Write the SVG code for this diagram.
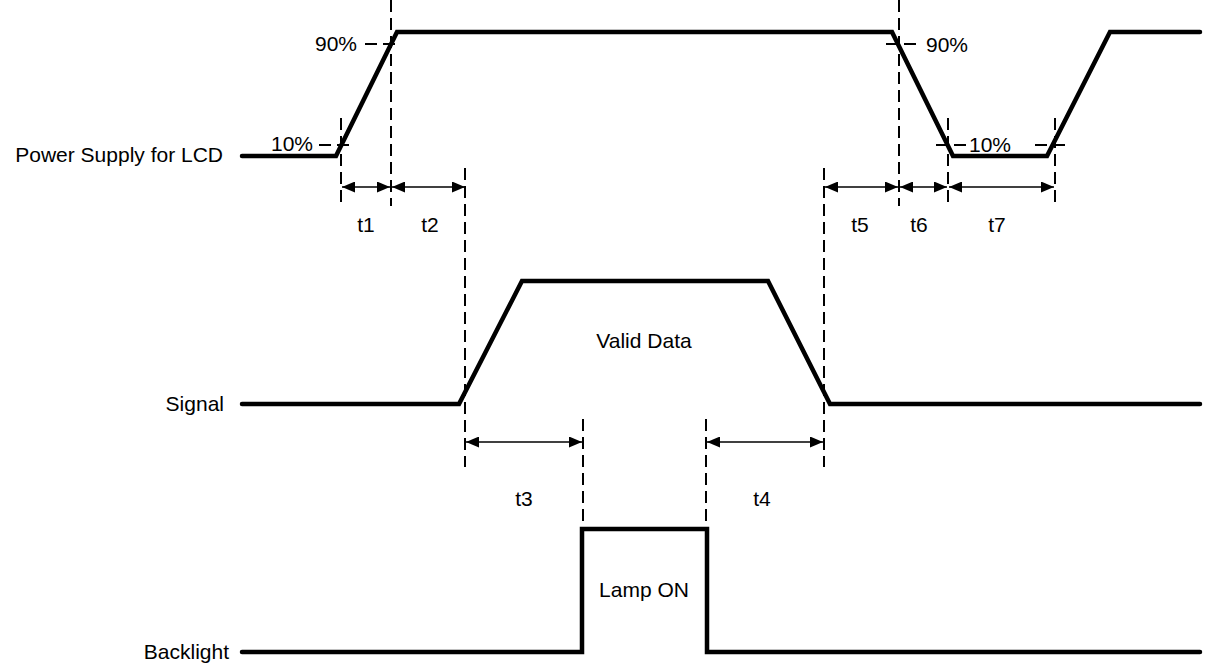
<svg xmlns="http://www.w3.org/2000/svg" width="1207" height="665" viewBox="0 0 1207 665">
<style>
text{font-family:"Liberation Sans",Arial,sans-serif;font-size:21px;fill:#000}
.wave{fill:none;stroke:#000;stroke-width:4.5;stroke-linejoin:miter;stroke-linecap:round}
.dash{fill:none;stroke:#000;stroke-width:2;stroke-dasharray:12 6}
.arr{fill:none;stroke:#000;stroke-width:1.5;marker-start:url(#ah);marker-end:url(#ah)}
.e{text-anchor:end}.m{text-anchor:middle}
</style>
<defs>
<marker id="ah" viewBox="0 0 13 11" refX="13" refY="5.5" markerWidth="13" markerHeight="11" markerUnits="userSpaceOnUse" orient="auto-start-reverse">
<path d="M0,0 L13,5.5 L0,11 Z" fill="#000"/>
</marker>
</defs>
<g id="power">
<text class="e" x="223" y="162">Power Supply for LCD</text>
<path class="wave" d="M242,156 L336,156 L397,32 L892,32 L953,156 L1047,156 L1110,32 L1200,32"/>
<text class="e" x="357" y="51">90%</text>
<text class="e" x="313" y="151">10%</text>
<text x="926" y="52">90%</text>
<text x="969" y="152">10%</text>
</g>
<g id="signal">
<text class="e" x="224" y="411">Signal</text>
<path class="wave" d="M242,404 L459,404 L522,281 L768,281 L830,404 L1200,404"/>
<text class="m" x="644" y="348">Valid Data</text>
</g>
<g id="backlight">
<text class="e" x="229" y="659">Backlight</text>
<path class="wave" d="M242,652 L582,652 L582,529 L707,529 L707,652 L1200,652"/>
<text class="m" x="644" y="597">Lamp ON</text>
</g>
<g id="connectors">
<path class="dash" d="M365,44 L400,44"/>
<path class="dash" d="M319,145 L352,145"/>
<path class="dash" d="M886,44 L918,44"/>
<path class="dash" d="M936,145 L968,145"/>
<path class="dash" d="M1035,145 L1067,145"/>
<path class="dash" d="M391,0 L391,206"/>
<path class="dash" d="M341,118 L341,206"/>
<path class="dash" d="M899,0 L899,206"/>
<path class="dash" d="M948,118 L948,206"/>
<path class="dash" d="M1055,118 L1055,206"/>
<path class="dash" d="M465,168 L465,467"/>
<path class="dash" d="M824,168 L824,467"/>
<path class="dash" d="M583,419 L583,529"/>
<path class="dash" d="M706,419 L706,529"/>
<line class="arr" x1="342" y1="187" x2="390" y2="187"/>
<line class="arr" x1="392" y1="187" x2="465" y2="187"/>
<line class="arr" x1="825" y1="187" x2="898" y2="187"/>
<line class="arr" x1="900" y1="187" x2="947" y2="187"/>
<line class="arr" x1="949" y1="187" x2="1054" y2="187"/>
<line class="arr" x1="466" y1="442" x2="582" y2="442"/>
<line class="arr" x1="707" y1="442" x2="823" y2="442"/>
<text class="m" x="366" y="232">t1</text>
<text class="m" x="430" y="232">t2</text>
<text class="m" x="860" y="232">t5</text>
<text class="m" x="919" y="232">t6</text>
<text class="m" x="997" y="232">t7</text>
<text class="m" x="524" y="506">t3</text>
<text class="m" x="762" y="506">t4</text>
</g>
</svg>
